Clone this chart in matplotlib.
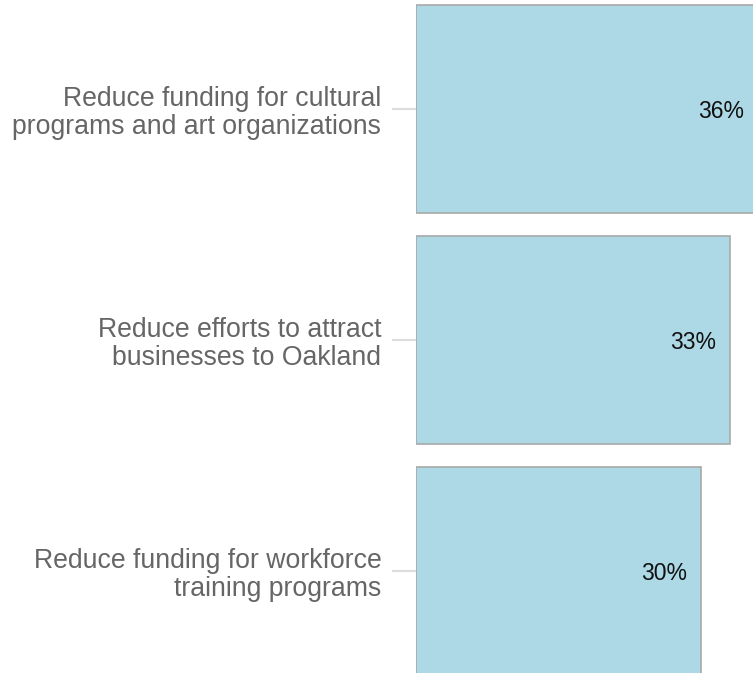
import matplotlib
matplotlib.use("Agg")
import matplotlib.pyplot as plt

categories = [
    "Reduce funding for cultural\nprograms and art organizations",
    "Reduce efforts to attract\nbusinesses to Oakland",
    "Reduce funding for workforce\ntraining programs",
]
values = [36, 33, 30]
value_labels = ["36%", "33%", "30%"]

plt.rcParams['font.family'] = ['Liberation Sans', 'DejaVu Sans']

fig = plt.figure(figsize=(7.53, 6.73), dpi=100)
ax = fig.add_axes([416/753, 0, 337/753, 1])

ypos = list(range(len(categories)))
ax.barh(ypos, values, height=0.9, color="#add8e6", edgecolor="#a9a9a9", linewidth=1.2)
for y, v, lab in zip(ypos, values, value_labels):
    ax.annotate(lab, xy=(v, y), xytext=(-10, -1.5), textcoords="offset points",
                ha="right", va="center", fontsize=16.5, color="#111111",
                annotation_clip=False)

ax.set_xlim(0, 337/9.5)
ax.set_ylim(2 + (673-571)/231, -109/231)
ax.set_yticks(ypos)
ax.set_yticklabels(categories, fontsize=19.2, color="#666666", linespacing=1.12)
ax.tick_params(axis="y", length=17, width=1.5, color="#dddddd", pad=8)
ax.set_xticks([])
for s in ax.spines.values():
    s.set_visible(False)

fig.savefig("out.png", dpi=100)
